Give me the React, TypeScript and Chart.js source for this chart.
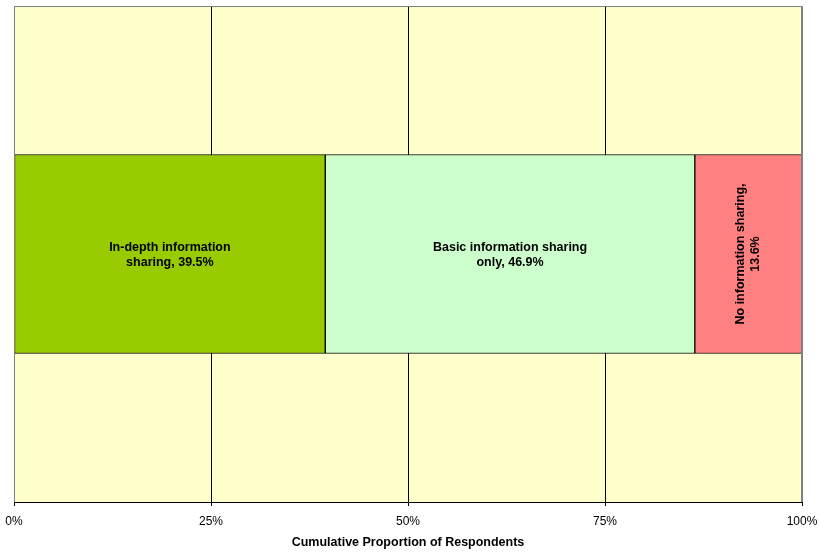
import React, { useEffect, useRef } from "react";
import { Chart, registerables } from "chart.js";

Chart.register(...registerables);

const categories = ["Respondents"];
const segmentNames = [
  "In-depth information sharing",
  "Basic information sharing only",
  "No information sharing",
];
const segmentValues = [39.5, 46.9, 13.6];
const segmentColors = ["#99CC00", "#CCFFCC", "#FF8080"];
const segmentLabelLines = [
  ["In-depth information", "sharing, 39.5%"],
  ["Basic information sharing", "only, 46.9%"],
  ["No information sharing,", "13.6%"],
];
const segmentRotated = [false, false, true];
const xTickValues = [0, 25, 50, 75, 100];
const axisTitle = "Cumulative Proportion of Respondents";

const FONT = "'Liberation Sans', Arial, sans-serif";

const bgPlugin = {
  id: "plotBg",
  beforeDraw(chart: any) {
    const { ctx, chartArea } = chart;
    ctx.save();
    ctx.fillStyle = "#FFFFCC";
    ctx.fillRect(chartArea.left, chartArea.top, chartArea.right - chartArea.left, chartArea.bottom - chartArea.top);
    ctx.restore();
  },
  afterDraw(chart: any) {
    const { ctx, chartArea } = chart;
    ctx.save();
    ctx.strokeStyle = "#808080";
    ctx.lineWidth = 1;
    ctx.beginPath();
    ctx.moveTo(chartArea.left + 0.5, chartArea.bottom);
    ctx.lineTo(chartArea.left + 0.5, chartArea.top + 0.5);
    ctx.lineTo(chartArea.right - 0.5, chartArea.top + 0.5);
    ctx.lineTo(chartArea.right - 0.5, chartArea.bottom);
    ctx.stroke();
    ctx.restore();
  },
};

const labelPlugin = {
  id: "segLabels",
  afterDatasetsDraw(chart: any) {
    const { ctx } = chart;
    ctx.save();
    ctx.font = `bold 12.5px ${FONT}`;
    ctx.fillStyle = "#000";
    ctx.textAlign = "center";
    ctx.textBaseline = "middle";
    chart.data.datasets.forEach((ds: any, i: number) => {
      const meta = chart.getDatasetMeta(i);
      const el: any = meta.data[0];
      if (!el) return;
      const cx = (el.x + el.base) / 2;
      const cy = el.y;
      const lines = segmentLabelLines[i];
      const lh = 15;
      ctx.save();
      ctx.translate(cx, cy);
      if (segmentRotated[i]) ctx.rotate(-Math.PI / 2);
      lines.forEach((ln, k) => {
        ctx.fillText(ln, 0, (k - (lines.length - 1) / 2) * lh + (segmentRotated[i] ? 0 : 1));
      });
      ctx.restore();
    });
    ctx.restore();
  },
};

export default function App() {
  const ref = useRef<HTMLCanvasElement | null>(null);
  useEffect(() => {
    if (!ref.current) return;
    const chart = new Chart(ref.current, {
      type: "bar",
      data: {
        labels: categories,
        datasets: segmentNames.map((name, i) => ({
          label: name,
          data: [segmentValues[i]],
          backgroundColor: segmentColors[i],
          borderColor: "#000000",
          borderWidth: 1,
          borderSkipped: false,
          barThickness: 199,
          categoryPercentage: 1,
        })),
      },
      options: {
        indexAxis: "y",
        animation: false,
        responsive: true,
        maintainAspectRatio: false,
        layout: { padding: { left: 14, right: 18, top: 6, bottom: 3 } },
        plugins: {
          legend: { display: false },
          tooltip: { enabled: false },
        },
        scales: {
          x: {
            stacked: true,
            min: 0,
            max: 100,
            afterBuildTicks(scale: any) {
              scale.ticks = xTickValues.map((v) => ({ value: v }));
            },
            afterFit(scale: any) {
              scale.paddingLeft = 0;
              scale.paddingRight = 0;
            },
            ticks: {
              color: "#000",
              font: { family: FONT, size: 12, lineHeight: 1 },
              padding: 10,
              maxRotation: 0,
              callback: (v: any) => `${v}%`,
            },
            grid: {
              color: (c: any) => (c.tick && (c.tick.value === 0 || c.tick.value === 100) ? "#808080" : "#000000"),
              tickColor: "#000000",
              tickLength: 4,
              lineWidth: 1,
            },
            border: { color: "#000000", width: 1 },
            title: {
              display: true,
              text: axisTitle,
              color: "#000",
              font: { family: FONT, size: 12.5, weight: "bold" },
              padding: { top: -3, bottom: 0 },
            },
          },
          y: {
            stacked: true,
            display: false,
            grid: { display: false },
          },
        },
      },
      plugins: [bgPlugin, labelPlugin],
    });
    return () => chart.destroy();
  }, []);
  return (
    <div style={{ position: "fixed", left: 0, top: 0, width: 820, height: 553, background: "#fff" }}>
      <canvas ref={ref} />
    </div>
  );
}
